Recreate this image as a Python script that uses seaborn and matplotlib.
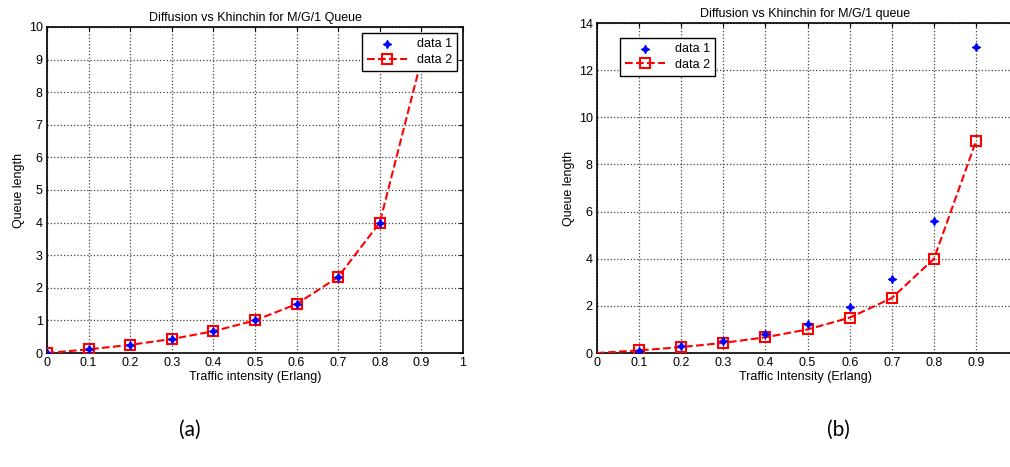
import matplotlib
matplotlib.use("Agg")
import matplotlib.pyplot as plt
import seaborn as sns
import numpy as np
import pandas as pd
from matplotlib.ticker import FixedLocator

sns.set_theme(style="white")
plt.rcParams['font.family'] = ['Liberation Sans', 'DejaVu Sans']
plt.rcParams['text.color'] = 'black'
plt.rcParams['axes.labelcolor'] = 'black'

# Panel (a)
rho_a = [0.0, 0.1, 0.2, 0.3, 0.4, 0.5, 0.6, 0.7, 0.8, 0.9]
diff_a = [0.0, 0.11, 0.25, 0.43, 0.67, 1.0, 1.5, 2.33, 4.0, 9.0]
khin_a = [0.0, 0.111, 0.25, 0.429, 0.667, 1.0, 1.5, 2.333, 4.0, 9.0]

# Panel (b)
rho_b1 = [0.1, 0.2, 0.3, 0.4, 0.5, 0.6, 0.7, 0.8, 0.9]
diff_b = [0.1, 0.28, 0.5, 0.8, 1.25, 1.95, 3.15, 5.6, 13.0]
rho_b2 = [0.0, 0.1, 0.2, 0.3, 0.4, 0.5, 0.6, 0.7, 0.8, 0.9]
khin_b = [0.0, 0.111, 0.25, 0.429, 0.667, 1.0, 1.5, 2.333, 4.0, 9.0]

xticks = [0, 0.1, 0.2, 0.3, 0.4, 0.5, 0.6, 0.7, 0.8, 0.9, 1]
xticklabels_a = ["0", "0.1", "0.2", "0.3", "0.4", "0.5", "0.6", "0.7", "0.8", "0.9", "1"]
yticks_a = list(range(0, 11))
yticks_b = [0, 2, 4, 6, 8, 10, 12, 14]

fig = plt.figure(figsize=(10.10, 4.67), dpi=100)
ax1 = fig.add_axes([0.0465, 0.2441, 0.4119, 0.6981])
ax2 = fig.add_axes([0.591, 0.2441, 0.413, 0.7066])

star = (4, 1, 0)
fs = 9


def style(ax, ylim, yticks, xlim, xt, xtl, title, xlabel):
    ax.set_xlim(*xlim)
    ax.set_ylim(*ylim)
    ax.xaxis.set_major_locator(FixedLocator(xt))
    ax.set_xticklabels(xtl)
    ax.set_yticks(yticks)
    ax.set_yticklabels([str(v) for v in yticks])
    ax.grid(True, color="#444444", linestyle=":", linewidth=0.9)
    ax.tick_params(direction="in", length=3, width=0.8, top=True, right=True,
                   labelsize=fs, colors="black", pad=3)
    for s in ax.spines.values():
        s.set_visible(True)
        s.set_color("black")
        s.set_linewidth(1.2)
    ax.set_title(title, fontsize=fs, pad=4, color="black")
    ax.set_xlabel(xlabel, fontsize=fs, labelpad=1)
    ax.set_ylabel("Queue length", fontsize=fs, labelpad=3)


# (a)
sns.lineplot(x=rho_a, y=khin_a, ax=ax1, color="red", linestyle="--", linewidth=1.5,
             marker="s", markersize=7, markerfacecolor="none", markeredgecolor="red",
             markeredgewidth=1.5, label="data 2", zorder=3)
sns.scatterplot(x=rho_a, y=diff_a, ax=ax1, color="blue", marker=star, s=35,
                edgecolor="blue", linewidth=0.8, label="data 1", zorder=4)
style(ax1, (0, 10), yticks_a, (0, 1), xticks, xticklabels_a,
      "Diffusion vs Khinchin for M/G/1 Queue", "Traffic intensity (Erlang)")
h, l = ax1.get_legend_handles_labels()
leg1 = ax1.legend([h[1], h[0]], [l[1], l[0]], loc="upper right", fontsize=fs,
                  frameon=True, fancybox=False, edgecolor="black", framealpha=1,
                  borderaxespad=0.5, handlelength=3.2, labelspacing=0.3)
leg1.get_frame().set_linewidth(1.0)

# (b)
sns.lineplot(x=rho_b2, y=khin_b, ax=ax2, color="red", linestyle="--", linewidth=1.5,
             marker="s", markersize=7, markerfacecolor="none", markeredgecolor="red",
             markeredgewidth=1.5, markevery=list(range(1, len(rho_b2))),
             label="data 2", zorder=3)
sns.scatterplot(x=rho_b1, y=diff_b, ax=ax2, color="blue", marker=star, s=35,
                edgecolor="blue", linewidth=0.8, label="data 1", zorder=4)
style(ax2, (0, 14), yticks_b, (0, 0.99), xticks[:-1], xticklabels_a[:-1],
      "Diffusion vs Khinchin for M/G/1 queue", "Traffic Intensity (Erlang)")
h, l = ax2.get_legend_handles_labels()
leg2 = ax2.legend([h[1], h[0]], [l[1], l[0]], loc="upper left", fontsize=fs,
                  frameon=True, fancybox=False, edgecolor="black", framealpha=1,
                  bbox_to_anchor=(0.055, 0.955), borderaxespad=0.0, handlelength=3.2,
                  labelspacing=0.3)
leg2.get_frame().set_linewidth(1.0)

fig.text(190 / 1010, 1 - 430 / 467, "(a)", fontsize=15, ha="center", va="center",
         family=["Lato", "DejaVu Sans"])
fig.text(838 / 1010, 1 - 430 / 467, "(b)", fontsize=15, ha="center", va="center",
         family=["Lato", "DejaVu Sans"])

fig.savefig("out.png", dpi=100, facecolor="white")
